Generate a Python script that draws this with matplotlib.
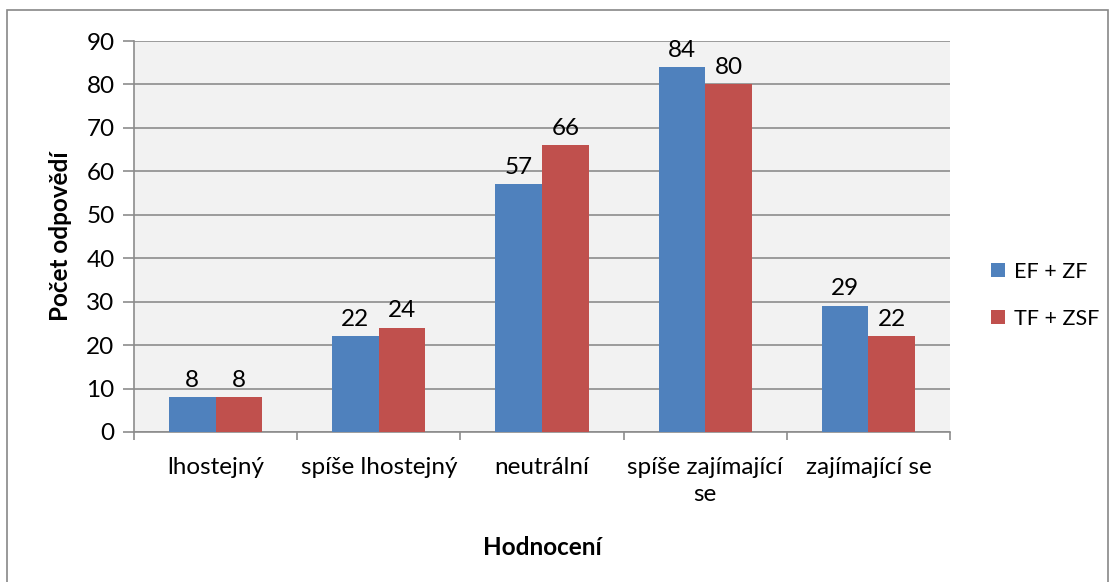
import matplotlib.pyplot as plt
import numpy as np
from matplotlib.patches import Rectangle

plt.rcParams['font.family'] = ['Lato', 'DejaVu Sans']

categories = ["lhostejný", "spíše lhostejný", "neutrální", "spíše zajímající\nse", "zajímající se"]
ef_zf = [8, 22, 57, 84, 29]
tf_zsf = [8, 24, 66, 80, 22]
series_names = ["EF + ZF", "TF + ZSF"]
colors = ["#4F81BD", "#C0504D"]

fig = plt.figure(figsize=(11.15, 5.82), dpi=100)
ax = fig.add_axes([134 / 1115, 1 - 432 / 582, (950 - 134) / 1115, (432 - 41) / 582])

# outer chart border
fig.patches.append(Rectangle((7 / 1115, -10 / 582), 1101 / 1115, 582 / 582, transform=fig.transFigure,
                             fill=False, edgecolor="#888888", linewidth=1.2))

x = np.arange(len(categories))
w = 1 / 3.5
b1 = ax.bar(x - w / 2, ef_zf, w, color=colors[0], label=series_names[0], zorder=3)
b2 = ax.bar(x + w / 2, tf_zsf, w, color=colors[1], label=series_names[1], zorder=3)

for bars in (b1, b2):
    for r in bars:
        ax.text(r.get_x() + r.get_width() / 2, r.get_height() + 1.5, f"{int(r.get_height())}",
                ha="center", va="bottom", fontsize=17.5)

ax.set_facecolor("#F2F2F2")
ax.set_xlim(-0.5, len(categories) - 0.5)
ax.set_ylim(0, 90)
ax.set_yticks(range(0, 91, 10))
ax.yaxis.grid(True, color="#8C8C8C", linewidth=1.2, zorder=0)
ax.set_axisbelow(True)

ax.set_xticks(np.arange(-0.5, len(categories), 1))
ax.set_xticklabels([])
ax.set_xticks(x, minor=True)
ax.set_xticklabels(categories, minor=True, fontsize=17.5, linespacing=1.35)
ax.tick_params(axis="x", which="minor", length=0, pad=18)
ax.tick_params(axis="x", which="major", length=6, color="#8C8C8C", width=1.2)
ax.tick_params(axis="y", length=8, color="#8C8C8C", width=1.2, labelsize=17.5, pad=6)

for s in ("top", "right"):
    ax.spines[s].set_visible(False)
for s in ("left", "bottom"):
    ax.spines[s].set_color("#8C8C8C")
    ax.spines[s].set_linewidth(1.2)

ax.set_ylabel("Počet odpovědí", fontsize=17.5, fontweight="bold", labelpad=10)
ax.set_xlabel("Hodnocení", fontsize=17.5, fontweight="bold", labelpad=22)

ax.legend(loc="center left", bbox_to_anchor=(1.04, 0.35), frameon=False, fontsize=15.5,
          handlelength=0.65, handleheight=0.65, handletextpad=0.4, labelspacing=1.25,
          borderaxespad=0)

fig.savefig("out.png", dpi=100)
